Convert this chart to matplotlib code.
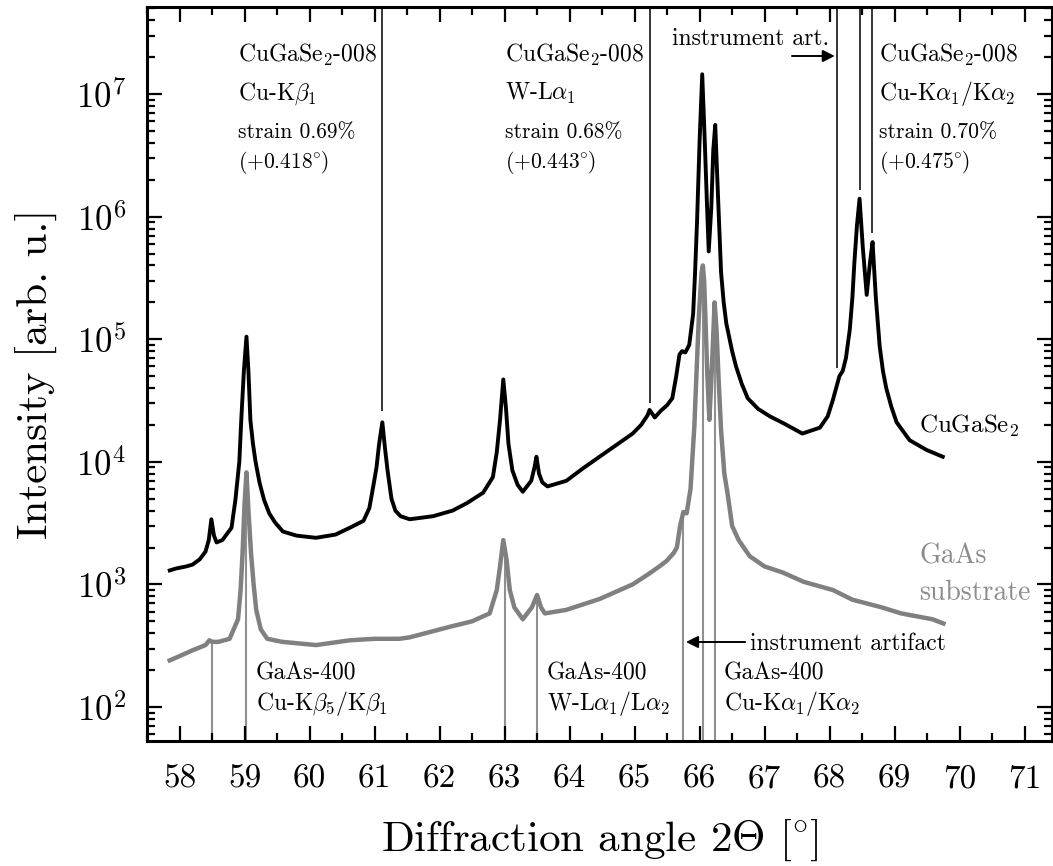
import math
import matplotlib
matplotlib.use("Agg")
import matplotlib.pyplot as plt
from matplotlib.ticker import MultipleLocator, LogLocator, FuncFormatter, NullFormatter
import matplotlib.transforms as mtransforms

plt.rcParams['font.family'] = 'serif'
plt.rcParams['font.serif'] = ['cmr10']
plt.rcParams['mathtext.fontset'] = 'cm'
plt.rcParams['axes.formatter.use_mathtext'] = True

# ---------------- data ----------------
cgs_angle = [57.85, 57.95, 58.1, 58.2, 58.31, 58.4, 58.45, 58.49, 58.53, 58.57, 58.66, 58.8, 58.86,
             58.92, 58.95, 58.99, 59.03, 59.06, 59.09, 59.13, 59.17, 59.23, 59.3, 59.38, 59.47,
             59.59, 59.8, 60.1, 60.4, 60.62, 60.83, 60.92, 60.98, 61.03, 61.07, 61.12, 61.16,
             61.2, 61.26, 61.32, 61.4, 61.54, 61.9, 62.2, 62.42, 62.67, 62.82, 62.88, 62.93,
             62.98, 63.02, 63.06, 63.12, 63.2, 63.28, 63.41, 63.46, 63.49, 63.53, 63.58, 63.66,
             63.95, 64.2, 64.46, 64.7, 64.97, 65.1, 65.2, 65.23, 65.31, 65.4, 65.5, 65.58, 65.64,
             65.69, 65.73, 65.78, 65.84, 65.9, 65.93, 65.96, 66.0, 66.04, 66.08, 66.11, 66.14,
             66.18, 66.21, 66.24, 66.28, 66.33, 66.37, 66.41, 66.5, 66.56, 66.65, 66.74, 66.9,
             67.08, 67.3, 67.58, 67.85, 67.97, 68.05, 68.1, 68.15, 68.2, 68.25, 68.31, 68.35,
             68.38, 68.42, 68.46, 68.51, 68.57, 68.62, 68.66, 68.71, 68.77, 68.82, 68.87, 68.95,
             69.03, 69.23, 69.49, 69.74]
cgs_intensity = [1300, 1350, 1400, 1450, 1600, 1850, 2300, 3400, 2500, 2200, 2300, 2900, 4900,
                 10000, 22000, 55000, 105000, 55000, 22000, 14000, 10000, 6800, 4900, 3800, 3200,
                 2700, 2500, 2400, 2550, 2900, 3300, 4200, 6300, 9000, 14000, 21000, 13000,
                 8500, 5000, 4000, 3600, 3400, 3600, 4000, 4600, 5600, 7500, 12000, 22000,
                 47000, 28000, 14000, 8500, 6500, 5700, 7000, 9000, 11000, 8000, 6800, 6300,
                 7000, 8800, 11000, 13500, 17000, 20000, 24000, 26500, 23000, 26000, 29000, 33000,
                 50000, 75000, 80000, 78000, 90000, 160000, 350000, 900000, 4200000, 14500000,
                 4000000, 1400000, 520000, 1200000, 3500000, 5600000, 1600000, 350000, 200000,
                 135000, 80000, 60000, 43000, 33000, 27000, 23500, 20500, 17000, 19000, 23500,
                 32000, 40000, 50000, 55000, 70000, 120000, 220000, 420000, 850000, 1400000,
                 560000, 230000, 420000, 620000, 220000, 87000, 55000, 40000, 28000, 21000, 15000,
                 12500, 11000]

gaas_angle = [57.85, 58.0, 58.2, 58.4, 58.46, 58.5, 58.6, 58.77, 58.9, 58.94, 58.97, 59.0, 59.03,
              59.06, 59.1, 59.14, 59.18, 59.25, 59.35, 59.58, 60.1, 60.62, 61.0, 61.38, 61.54,
              62.15, 62.5, 62.77, 62.88, 62.93, 62.98, 63.03, 63.08, 63.15, 63.28, 63.42, 63.5,
              63.56, 63.62, 63.95, 64.46, 64.97, 65.2, 65.38, 65.49, 65.6, 65.65, 65.7, 65.75,
              65.8, 65.86, 65.92, 65.95, 65.99, 66.03, 66.05, 66.07, 66.1, 66.12, 66.15, 66.19,
              66.23, 66.26, 66.29, 66.33, 66.38, 66.43, 66.5, 66.6, 66.77, 67.0, 67.28, 67.6,
              68.05, 68.35, 68.8, 69.1, 69.58, 69.75]
gaas_intensity = [240, 260, 290, 320, 350, 340, 340, 360, 520, 900, 1800, 4500, 8200,
                  4000, 1800, 1000, 620, 430, 360, 340, 320, 350, 360, 360, 370,
                  450, 500, 580, 900, 1400, 2300, 1600, 900, 650, 520, 650, 820,
                  650, 580, 620, 760, 1000, 1200, 1400, 1550, 1800, 2000, 3000, 3900,
                  3800, 6000, 20000, 50000, 160000, 350000, 400000, 300000, 100000, 50000, 22000,
                  60000, 200000, 120000, 50000, 18000, 8000, 5500, 3000, 2300, 1700, 1400, 1250,
                  1050, 900, 750, 650, 580, 520, 480]

# reflection marker lines
cgs_marker_angle = [61.12, 65.23, 68.12, 68.46, 68.65]
cgs_marker_end = [26000, 30000, 58000, 1650000, 730000]
gaas_marker_angle = [58.5, 59.03, 63.0, 63.5, 65.75, 66.05, 66.23]
gaas_marker_end = [340, 8000, 2200, 800, 3900, 400000, 200000]

x_ticks = list(range(58, 72))
y_decades = [2, 3, 4, 5, 6, 7]

cgs_labels = [
    ["CuGaSe$_2$-008", r"Cu-K$\beta_1$", "strain 0.69%", r"(+0.418$\!^\circ\!$)"],
    ["CuGaSe$_2$-008", r"W-L$\alpha_1$", "strain 0.68%", r"(+0.443$\!^\circ\!$)"],
    ["CuGaSe$_2$-008", r"Cu-K$\alpha_1$/K$\alpha_2$", "strain 0.70%", r"(+0.475$\!^\circ\!$)"],
]
cgs_label_x = [58.9, 63.0, 68.76]
gaas_labels = [
    ["GaAs-400", r"Cu-K$\beta_5$/K$\beta_1$"],
    ["GaAs-400", r"W-L$\alpha_1$/L$\alpha_2$"],
    ["GaAs-400", r"Cu-K$\alpha_1$/K$\alpha_2$"],
]
gaas_label_x = [59.17, 63.65, 66.37]

# ---------------- figure ----------------
W, H = 1053, 866
fig = plt.figure(figsize=(W / 100, H / 100), dpi=100)
ax = fig.add_axes([147 / W, (H - 741) / H, (1052 - 147) / W, (741 - 7) / H])

ymin, ymax = 52.8, 5.13e7
ax.set_yscale('log')
ax.set_xlim(57.5, 71.42)
ax.set_ylim(ymin, ymax)

gray = '#808080'
ax.vlines(gaas_marker_angle, ymin, gaas_marker_end, color='#909090', lw=1.5, zorder=1)
ax.vlines(cgs_marker_angle, cgs_marker_end, ymax, color='black', lw=1.1, zorder=1)
ax.plot(gaas_angle, gaas_intensity, color=gray, lw=3.2, zorder=2, solid_joinstyle='round')
ax.plot(cgs_angle, cgs_intensity, color='black', lw=2.8, zorder=3, solid_joinstyle='round')

# ticks
ax.set_xticks(x_ticks)
ax.set_xticklabels([str(t) for t in x_ticks])
ax.xaxis.set_minor_locator(MultipleLocator(0.5))
ax.set_yticks([10.0 ** d for d in y_decades])
ax.yaxis.set_minor_locator(LogLocator(base=10, subs=[2, 3, 4, 5, 6, 7, 8, 9], numticks=20))
ax.yaxis.set_major_formatter(FuncFormatter(lambda v, p: r'$10^{%d}$' % round(math.log10(v))))
ax.yaxis.set_minor_formatter(NullFormatter())
ax.tick_params(which='both', direction='in', top=True, right=True, width=1.6)
ax.tick_params(which='major', length=11)
ax.tick_params(which='minor', length=5.5)
ax.tick_params(axis='x', which='major', labelsize=24, pad=17)
ax.tick_params(axis='y', which='major', labelsize=25, pad=15)
for s in ax.spines.values():
    s.set_linewidth(2.2)

ax.set_xlabel(r'Diffraction angle 2$\Theta$ [$\!^\circ\!$]', fontsize=31, labelpad=17)
ax.set_ylabel('Intensity [arb. u.]', fontsize=31, labelpad=14)

trans = mtransforms.blended_transform_factory(ax.transData, ax.transAxes)
def yfrac(py):
    return (741 - py) / 734.0

row_y = [62, 100, 138, 168]
row_fs = [17, 17, 15.5, 15.5]
for lx, lines in zip(cgs_label_x, cgs_labels):
    for txt, py, fs in zip(lines, row_y, row_fs):
        ax.text(lx, yfrac(py), txt, transform=trans, fontsize=fs, va='baseline', ha='left')

for lx, lines in zip(gaas_label_x, gaas_labels):
    for txt, py in zip(lines, [680, 710]):
        ax.text(lx, yfrac(py), txt, transform=trans, fontsize=17, va='baseline', ha='left')

ax.text(65.58, yfrac(45), 'instrument art.', transform=trans, fontsize=17, va='baseline', ha='left')
ax.annotate('', xy=(68.08, yfrac(56)), xytext=(67.42, yfrac(56)),
            xycoords=trans, textcoords=trans,
            arrowprops=dict(arrowstyle='-|>', color='black', lw=1.4, mutation_scale=18,
                            shrinkA=0, shrinkB=0))
ax.text(66.77, yfrac(650), 'instrument artifact', transform=trans, fontsize=17, va='baseline', ha='left')
ax.annotate('', xy=(65.79, yfrac(642)), xytext=(66.7, yfrac(642)),
            xycoords=trans, textcoords=trans,
            arrowprops=dict(arrowstyle='-|>', color='black', lw=1.4, mutation_scale=18,
                            shrinkA=0, shrinkB=0))

ax.text(69.38, yfrac(433), 'CuGaSe$_2$', transform=trans, fontsize=18, va='baseline', ha='left')
ax.text(69.38, yfrac(563), 'GaAs', transform=trans, fontsize=20, va='baseline', ha='left', color='#8c8c8c')
ax.text(69.38, yfrac(600), 'substrate', transform=trans, fontsize=20, va='baseline', ha='left', color='#8c8c8c')

fig.savefig('out.png', dpi=100)
